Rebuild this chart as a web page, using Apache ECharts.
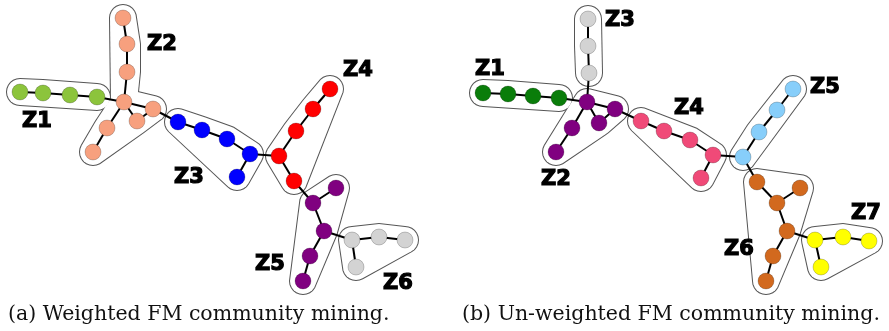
<!DOCTYPE html>
<html>
<head>
<meta charset="utf-8">
<script src="https://cdn.jsdelivr.net/npm/echarts@6/dist/echarts.min.js"></script>
<style>
html, body { margin: 0; padding: 0; background: #fff; }
#chart { width: 889px; height: 331px; }
</style>
</head>
<body>
<div id="chart"></div>
<script>
// node positions (picture pixels), community of each node
var nodeX = [20, 43, 70, 97, 123, 127, 127, 124, 153, 137, 107, 93, 178, 202, 227, 250, 237,
	279, 296, 313, 330, 294, 313, 336, 324, 310, 303, 352, 379, 405, 356,
	483, 508, 533, 559, 588, 588, 589, 587, 615, 599, 572, 556, 641, 664, 690, 713, 701,
	743, 759, 777, 793, 757, 777, 800, 787, 773, 766, 815, 843, 869, 821];
var nodeY = [92, 93, 95, 97, 18, 44, 72, 102, 109, 121, 128, 152, 122, 130, 139, 154, 177,
	156, 131, 109, 89, 181, 203, 188, 231, 256, 281, 240, 237, 240, 267,
	93, 94, 96, 98, 19, 46, 73, 102, 109, 123, 128, 152, 121, 131, 140, 155, 178,
	157, 132, 110, 89, 182, 203, 188, 231, 256, 281, 240, 237, 241, 267];
var nodeCommunity = [0, 0, 0, 0, 1, 1, 1, 1, 1, 1, 1, 1, 2, 2, 2, 2, 2,
	3, 3, 3, 3, 3, 4, 4, 4, 4, 4, 5, 5, 5, 5,
	6, 6, 6, 6, 7, 7, 7, 8, 8, 8, 8, 8, 9, 9, 9, 9, 9,
	10, 10, 10, 10, 11, 11, 11, 11, 11, 11, 12, 12, 12, 12];

var edges = [
	[0, 1], [1, 2], [2, 3], [3, 7], [4, 5], [5, 6], [6, 7], [7, 8], [7, 9], [8, 9], [7, 10], [10, 11],
	[8, 12], [12, 13], [13, 14], [14, 15], [15, 16], [15, 17], [17, 18], [18, 19], [19, 20], [17, 21],
	[21, 22], [22, 23], [22, 24], [24, 25], [25, 26], [24, 27], [27, 28], [28, 29], [27, 30],
	[31, 32], [32, 33], [33, 34], [34, 38], [35, 36], [36, 37], [37, 38], [38, 39], [38, 40], [39, 40],
	[38, 41], [41, 42], [39, 43], [43, 44], [44, 45], [45, 46], [46, 47], [46, 48], [48, 49], [49, 50],
	[50, 51], [48, 52], [52, 53], [53, 54], [53, 55], [55, 56], [56, 57], [55, 58], [58, 59], [59, 60], [58, 61]
];

// node groups enclosed by each hull outline
var hullGroups = [
	[0, 1, 2, 3], [4, 5, 6, 7], [7, 8, 9, 10, 11], [12, 13, 14, 15, 16], [17, 18, 19, 20, 21],
	[22, 23, 24, 25, 26], [27, 28, 29, 30],
	[31, 32, 33, 34], [35, 36, 37], [38, 39, 40, 41, 42], [43, 44, 45, 46, 47], [48, 49, 50, 51],
	[52, 53, 54, 55, 56, 57], [58, 59, 60, 61]
];

// community labels and where they sit
var labelText = ['Z1', 'Z2', 'Z3', 'Z4', 'Z5', 'Z6', 'Z1', 'Z2', 'Z3', 'Z4', 'Z5', 'Z6', 'Z7'];
var labelX = [37, 162, 189, 358, 270, 398, 490, 556, 620, 689, 825, 739, 866];
var labelY = [122, 45, 178, 71, 265, 284, 70, 180, 21, 109, 88, 250, 214];

var captions = ['(a) Weighted FM community mining.', '(b) Un-weighted FM community mining.'];

var colors = ['#8cc43c', '#f7a07e', '#0000ff', '#ff0000', '#800080', '#d3d3d3',
	'#0a7d0a', '#d3d3d3', '#800080', '#f04a78', '#87cefa', '#d2691e', '#ffff00'];

var chart = echarts.init(document.getElementById('chart'));

// convex hull (monotone chain)
function hull(pts) {
	pts.sort(function(a, b) { return a[0] - b[0] || a[1] - b[1]; });
	function cross(o, a, b) { return (a[0] - o[0]) * (b[1] - o[1]) - (a[1] - o[1]) * (b[0] - o[0]); }
	var lower = [], upper = [];
	pts.forEach(function(p) {
		while (lower.length >= 2 && cross(lower[lower.length - 2], lower[lower.length - 1], p) <= 0) lower.pop();
		lower.push(p);
	});
	for (var i = pts.length - 1; i >= 0; i--) {
		var p = pts[i];
		while (upper.length >= 2 && cross(upper[upper.length - 2], upper[upper.length - 1], p) <= 0) upper.pop();
		upper.push(p);
	}
	upper.pop(); lower.pop();
	return lower.concat(upper);
}

function hullRender(stroke) {
	return function(params, api) {
		var pad = 13;
		var pts = [];
		hullGroups[params.dataIndex].forEach(function(n) {
			var c = api.coord([nodeX[n], nodeY[n]]);
			for (var k = 0; k < 24; k++) {
				var a = k * Math.PI / 12;
				pts.push([c[0] + pad * Math.cos(a), c[1] + pad * Math.sin(a)]);
			}
		});
		return {
			type: 'polygon',
			shape: { points: hull(pts) },
			style: stroke ? { fill: null, stroke: '#555', lineWidth: 2 } : { fill: '#fff', stroke: null }
		};
	};
}

var hullData = hullGroups.map(function(g) { return [nodeX[g[0]], nodeY[g[0]]]; });

chart.setOption({
	animation: false,
	grid: { left: 0, right: 0, top: 0, bottom: 0 },
	xAxis: { type: 'value', min: 0, max: 889, show: false },
	yAxis: { type: 'value', min: 0, max: 331, inverse: true, show: false },
	series: [
		{ type: 'custom', z: 1, silent: true, data: hullData, renderItem: hullRender(true) },
		{ type: 'custom', z: 2, silent: true, data: hullData, renderItem: hullRender(false) },
		{
			type: 'graph',
			coordinateSystem: 'cartesian2d',
			z: 3,
			symbolSize: 16,
			data: nodeX.map(function(x, i) {
				return {
					value: [x, nodeY[i]],
					itemStyle: { color: colors[nodeCommunity[i]], borderColor: 'rgba(0,0,0,0.35)', borderWidth: 0.6 }
				};
			}),
			links: edges.map(function(e) { return { source: e[0], target: e[1] }; }),
			lineStyle: { color: '#000', width: 2, opacity: 1 }
		},
		{
			type: 'scatter',
			z: 4,
			symbolSize: 0,
			itemStyle: { opacity: 1 },
			data: labelText.map(function(t, i) { return [labelX[i], labelY[i], t]; }),
			label: {
				show: true,
				position: 'inside',
				formatter: function(p) { return p.value[2]; },
				fontFamily: 'DejaVu Sans',
				fontWeight: 'bold',
				fontSize: 21,
				color: '#000',
				textBorderColor: '#000',
				textBorderWidth: 1.2
			}
		}
	],
	graphic: captions.map(function(t, i) {
		return {
			type: 'text',
			left: i === 0 ? 8 : 462,
			top: 304,
			style: { text: t, font: '20.5px "DejaVu Serif"', fill: '#111' }
		};
	})
});
</script>
</body>
</html>
